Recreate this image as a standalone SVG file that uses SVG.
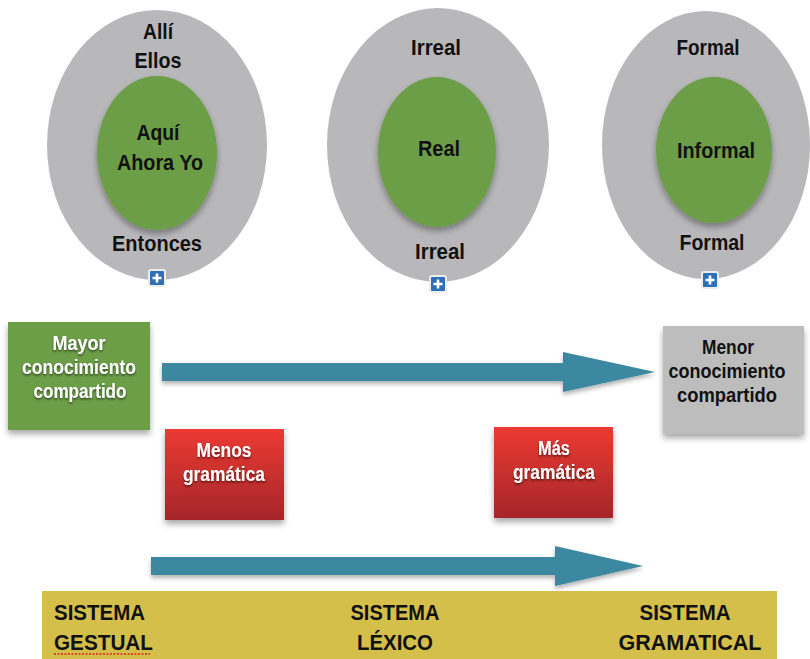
<svg xmlns="http://www.w3.org/2000/svg" width="810" height="659" viewBox="0 0 810 659">
<defs>
<style>
.t{font-family:"Liberation Sans",Arial,sans-serif;font-weight:bold;text-anchor:middle}
.dk{fill:#111;font-size:22.5px}
.wt{fill:#fff;font-size:19.5px;filter:url(#ts)}
.bk{fill:#111;font-size:19.5px}
.outer{fill:#b8b8ba}
.inner{fill:#6c9e47;filter:url(#ds)}
.plus rect{fill:#2f6fb5;stroke:#ececec;stroke-width:2}
.plus path{stroke:#fff;stroke-width:2.6}
.arrow{fill:#3a88a0;filter:url(#ds2)}
</style>
<linearGradient id="red" x1="0" y1="0" x2="0" y2="1">
<stop offset="0" stop-color="#ec3a31"/>
<stop offset="1" stop-color="#a5262b"/>
</linearGradient>
<filter id="ds" x="-20%" y="-20%" width="140%" height="150%">
<feDropShadow dx="0" dy="4" stdDeviation="3" flood-color="#000" flood-opacity="0.35"/>
</filter>
<filter id="ds2" x="-10%" y="-30%" width="120%" height="170%">
<feDropShadow dx="0" dy="3" stdDeviation="2" flood-color="#000" flood-opacity="0.3"/>
</filter>
<filter id="ts" x="-10%" y="-20%" width="120%" height="150%">
<feDropShadow dx="0" dy="1.5" stdDeviation="1" flood-color="#000" flood-opacity="0.6"/>
</filter>
</defs>

<g id="circle-deixis">
<ellipse class="outer" cx="157" cy="145" rx="110" ry="135"/>
<ellipse class="inner" cx="157" cy="153" rx="60" ry="77"/>
<text class="t dk" x="158" y="39" textLength="30" lengthAdjust="spacingAndGlyphs">Allí</text>
<text class="t dk" x="158" y="68" textLength="47" lengthAdjust="spacingAndGlyphs">Ellos</text>
<text class="t dk" x="158" y="140" textLength="43" lengthAdjust="spacingAndGlyphs">Aquí</text>
<text class="t dk" x="160" y="170" textLength="86" lengthAdjust="spacingAndGlyphs">Ahora Yo</text>
<text class="t dk" x="157" y="251" textLength="90" lengthAdjust="spacingAndGlyphs">Entonces</text>
<g class="plus"><rect x="149" y="270" width="16" height="16" rx="2"/><path d="M157 273.5v9M152.5 278h9"/></g>
</g>

<g id="circle-realidad">
<ellipse class="outer" cx="438" cy="145" rx="111" ry="137"/>
<ellipse class="inner" cx="437" cy="152" rx="59" ry="75"/>
<text class="t dk" x="436" y="55" textLength="50" lengthAdjust="spacingAndGlyphs">Irreal</text>
<text class="t dk" x="439" y="156" textLength="42" lengthAdjust="spacingAndGlyphs">Real</text>
<text class="t dk" x="440" y="259" textLength="50" lengthAdjust="spacingAndGlyphs">Irreal</text>
<g class="plus"><rect x="430" y="276" width="16" height="16" rx="2"/><path d="M438 279.5v9M433.5 284h9"/></g>
</g>

<g id="circle-formalidad">
<ellipse class="outer" cx="706" cy="145" rx="104" ry="134"/>
<ellipse class="inner" cx="714" cy="150" rx="58" ry="73"/>
<text class="t dk" x="708" y="55" textLength="63" lengthAdjust="spacingAndGlyphs">Formal</text>
<text class="t dk" x="716" y="158" textLength="78" lengthAdjust="spacingAndGlyphs">Informal</text>
<text class="t dk" x="712" y="250" textLength="65" lengthAdjust="spacingAndGlyphs">Formal</text>
<g class="plus"><rect x="702" y="272" width="16" height="16" rx="2"/><path d="M710 275.5v9M705.5 280h9"/></g>
</g>

<g id="connectors">
<path class="arrow" d="M162 363H563V352L655 372L563 392V381H162Z"/>
<path class="arrow" d="M151 557H555V546L643 566L555 586V575H151Z"/>
</g>

<g id="mayor">
<rect x="8" y="322" width="142" height="108" fill="#6c9e47" filter="url(#ds)"/>
<text class="t wt" x="79" y="350" textLength="53" lengthAdjust="spacingAndGlyphs">Mayor</text>
<text class="t wt" x="79" y="374" textLength="114" lengthAdjust="spacingAndGlyphs">conocimiento</text>
<text class="t wt" x="80" y="398" textLength="93" lengthAdjust="spacingAndGlyphs">compartido</text>
</g>

<g id="menor">
<rect x="663" y="326" width="141" height="108" fill="#bdbdbe" filter="url(#ds)"/>
<text class="t bk" x="728" y="354" textLength="52" lengthAdjust="spacingAndGlyphs">Menor</text>
<text class="t bk" x="727" y="378" textLength="117" lengthAdjust="spacingAndGlyphs">conocimiento</text>
<text class="t bk" x="727" y="402" textLength="100" lengthAdjust="spacingAndGlyphs">compartido</text>
</g>

<g id="menos">
<rect x="165" y="429" width="119" height="91" fill="url(#red)" filter="url(#ds)"/>
<text class="t wt" x="224" y="457" textLength="55" lengthAdjust="spacingAndGlyphs">Menos</text>
<text class="t wt" x="224" y="481" textLength="82" lengthAdjust="spacingAndGlyphs">gramática</text>
</g>

<g id="mas">
<rect x="494" y="427" width="119" height="91" fill="url(#red)" filter="url(#ds)"/>
<text class="t wt" x="554" y="455" textLength="32" lengthAdjust="spacingAndGlyphs">Más</text>
<text class="t wt" x="554" y="479" textLength="82" lengthAdjust="spacingAndGlyphs">gramática</text>
</g>

<g id="sistemas">
<rect x="42" y="591" width="735" height="68" fill="#d3bf4a"/>
<text class="t dk" x="54" y="620" style="text-anchor:start" textLength="91" lengthAdjust="spacingAndGlyphs">SISTEMA</text>
<text class="t dk" x="54" y="650" style="text-anchor:start" textLength="99" lengthAdjust="spacingAndGlyphs">GESTUAL</text>
<path d="M54 654H150" stroke="#d22" stroke-width="1.5" stroke-dasharray="2 1.5"/>
<text class="t dk" x="395" y="620" textLength="89" lengthAdjust="spacingAndGlyphs">SISTEMA</text>
<text class="t dk" x="395" y="650" textLength="76" lengthAdjust="spacingAndGlyphs">LÉXICO</text>
<text class="t dk" x="685" y="620" textLength="91" lengthAdjust="spacingAndGlyphs">SISTEMA</text>
<text class="t dk" x="690" y="650" textLength="143" lengthAdjust="spacingAndGlyphs">GRAMATICAL</text>
</g>
</svg>
